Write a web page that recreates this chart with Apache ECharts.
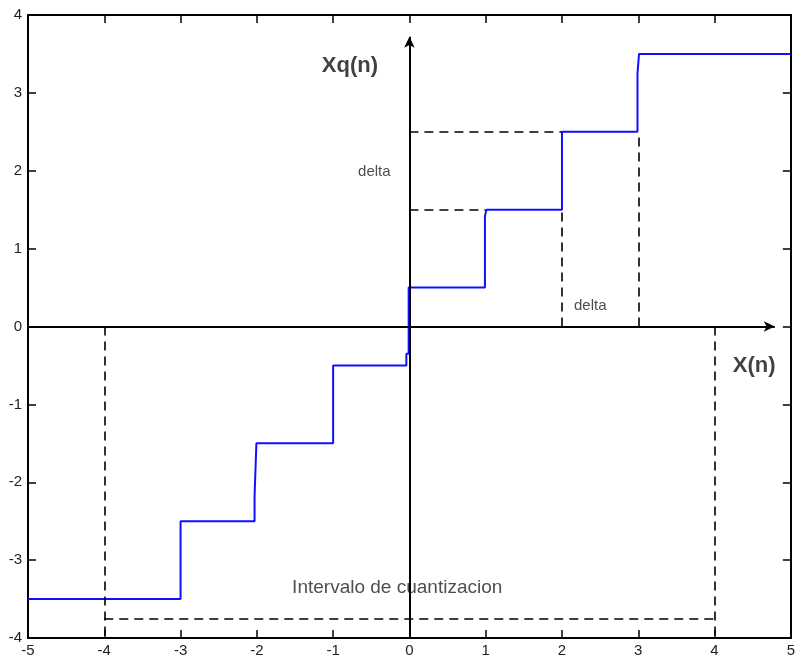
<!DOCTYPE html>
<html>
<head>
<meta charset="utf-8">
<script src="https://cdn.jsdelivr.net/npm/echarts@6/dist/echarts.min.js"></script>
<style>
html,body{margin:0;padding:0;background:#fff;}
#chart{width:798px;height:659px;}
</style>
</head>
<body>
<div id="chart"></div>
<script>
// Quantizer staircase vertices (x, Xq)
var stepX = [-5, -3, -3, -2.03, -2.03, -2.006, -2.006, -1, -1, -0.04, -0.04, -0.01, -0.01, 0.99, 0.99, 1.01, 1.01, 2, 2, 2.99, 2.99, 3.01, 3.01, 5];
var stepY = [-3.5, -3.5, -2.5, -2.5, -2.18, -2.18, -1.5, -1.5, -0.5, -0.5, -0.35, -0.35, 0.5, 0.5, 1.42, 1.42, 1.5, 1.5, 2.5, 2.5, 3.25, 3.25, 3.5, 3.5];

// Dashed guide segments [x1, y1, x2, y2]
var guideSegments = [
  [-4, 0, -4, -4],
  [4, 0, 4, -4],
  [-4, -3.75, 4, -3.75],
  [0, 2.5, 2, 2.5],
  [0, 1.5, 1, 1.5],
  [2, 0, 2, 1.5],
  [3, 0, 3, 2.5]
];

// Coordinate axes drawn with arrows [x1, y1, x2, y2]
var arrowAxes = [
  [0, -4, 0, 3.72],
  [-5, 0, 4.79, 0]
];

// Annotations
var noteText = ['Xq(n)', 'X(n)', 'delta', 'delta', 'Intervalo de cuantizacion'];
var noteX = [-0.78, 4.52, -0.46, 2.37, -0.16];
var noteY = [3.34, -0.51, 1.99, 0.27, -3.36];
var noteBold = [true, true, false, false, false];
var noteSize = [22, 22, 15, 15, 19];

var xTicks = [-5, -4, -3, -2, -1, 0, 1, 2, 3, 4, 5];
var yTicks = [-4, -3, -2, -1, 0, 1, 2, 3, 4];

var FONT = 'Liberation Sans, Arial, Helvetica, sans-serif';

var chart = echarts.init(document.getElementById('chart'), null, {renderer: 'canvas'});

var axisLineStyle = {color: '#000', width: 2};
function mkX(pos, showLabel) {
  return {
    type: 'value', position: pos, min: xTicks[0], max: xTicks[xTicks.length - 1], interval: 1,
    axisLine: {show: true, onZero: false, lineStyle: axisLineStyle},
    axisTick: {show: true, inside: true, length: 8, lineStyle: {color: '#000', width: 1.5}},
    axisLabel: {show: showLabel, color: '#222', fontSize: 15, fontFamily: FONT, margin: 5},
    splitLine: {show: false}
  };
}
function mkY(pos, showLabel) {
  return {
    type: 'value', position: pos, min: yTicks[0], max: yTicks[yTicks.length - 1], interval: 1,
    axisLine: {show: true, onZero: false, lineStyle: axisLineStyle},
    axisTick: {show: true, inside: true, length: 8, lineStyle: {color: '#000', width: 1.5}},
    axisLabel: {show: showLabel, color: '#222', fontSize: 15, fontFamily: FONT, margin: 6},
    splitLine: {show: false}
  };
}

var stepData = stepX.map(function (x, i) { return [x, stepY[i]]; });
var guideData = guideSegments.map(function (s) {
  return [{coord: [s[0], s[1]]}, {coord: [s[2], s[3]]}];
});
var arrowData = arrowAxes.map(function (s) {
  return [{coord: [s[0], s[1]]}, {coord: [s[2], s[3]]}];
});
var noteData = noteText.map(function (t, i) {
  return {
    value: [noteX[i], noteY[i]],
    label: {
      show: true, position: 'inside', formatter: t,
      fontSize: noteSize[i], fontWeight: noteBold[i] ? 'bold' : 'normal',
      color: noteBold[i] ? '#111' : '#222', fontFamily: FONT
    }
  };
});

chart.setOption({
  animation: false,
  backgroundColor: '#fff',
  grid: {left: 28, right: 4, top: 15, bottom: 21, containLabel: false},
  xAxis: [mkX('bottom', true), mkX('top', false)],
  yAxis: [mkY('left', true), mkY('right', false)],
  series: [
    {
      type: 'line', data: [], symbol: 'none', silent: true,
      markLine: {
        silent: true, symbol: ['none', 'none'], label: {show: false},
        lineStyle: {color: '#000', width: 1.6, type: [9, 6]},
        data: guideData
      }
    },
    {
      type: 'line', data: [], symbol: 'none', silent: true,
      markLine: {
        silent: true, symbol: ['none', 'arrow'], symbolSize: [8, 11], label: {show: false},
        lineStyle: {color: '#000', width: 2, type: 'solid'},
        data: arrowData
      }
    },
    {
      type: 'line', data: stepData, symbol: 'none', silent: true,
      lineStyle: {color: '#1010ff', width: 2}
    },
    {
      type: 'scatter', data: noteData, symbolSize: 0, silent: true
    }
  ]
});
</script>
</body>
</html>
